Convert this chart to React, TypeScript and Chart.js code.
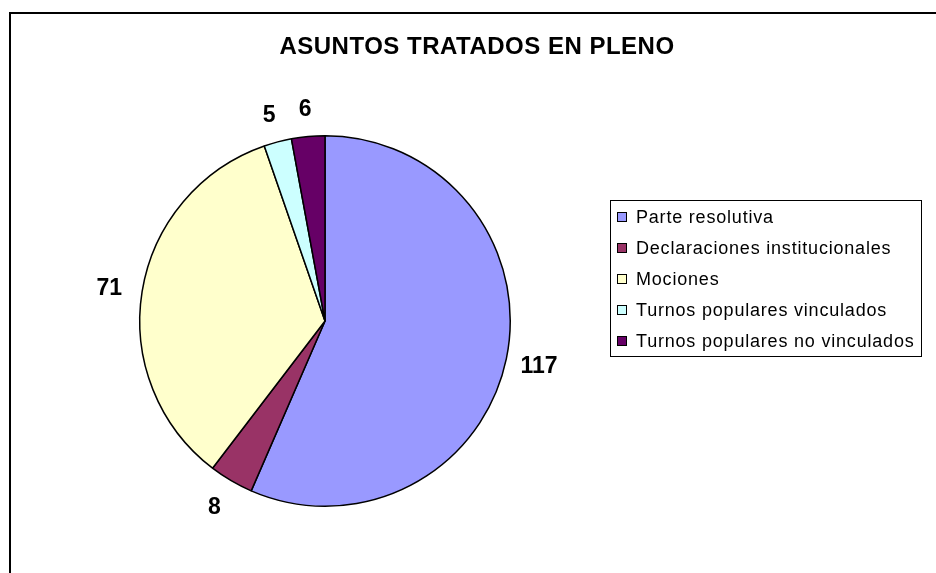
import React, { useEffect, useRef } from "react";
import { Chart, registerables } from "chart.js";

Chart.register(...registerables);

const title = "ASUNTOS TRATADOS EN PLENO";
const categories = [
  "Parte resolutiva",
  "Declaraciones institucionales",
  "Mociones",
  "Turnos populares vinculados",
  "Turnos populares no vinculados",
];
const values = [117, 8, 71, 5, 6];
const colors = ["#9999FF", "#993366", "#FFFFCC", "#CCFFFF", "#660066"];

const FONT = "'Liberation Sans', Arial, sans-serif";

const decorPlugin = {
  id: "decor",
  afterDraw(chart: any) {
    const ctx = chart.ctx;
    ctx.save();
    // outer frame
    ctx.strokeStyle = "#000";
    ctx.lineWidth = 2;
    ctx.strokeRect(10, 13, 1000, 700);

    // title
    ctx.fillStyle = "#000";
    ctx.font = `bold 24px ${FONT}`;
    (ctx as any).letterSpacing = "0.5px";
    ctx.textAlign = "center";
    ctx.textBaseline = "middle";
    ctx.fillText(title, 477, 47);
    (ctx as any).letterSpacing = "0px";

    // data labels
    const meta = chart.getDatasetMeta(0);
    ctx.font = `bold 23px ${FONT}`;
    meta.data.forEach((arc: any, i: number) => {
      const p = arc.getProps(["x", "y", "startAngle", "endAngle", "outerRadius"], true);
      const mid = (p.startAngle + p.endAngle) / 2;
      const r = p.outerRadius + 29;
      ctx.fillText(
        String(chart.data.datasets[0].data[i]),
        p.x + Math.cos(mid) * r * 1.02,
        p.y + Math.sin(mid) * r + 2
      );
    });

    // legend
    const lx = 610.5, ly = 200.5, lw = 311, lh = 156;
    ctx.lineWidth = 1;
    ctx.strokeStyle = "#000";
    ctx.strokeRect(lx, ly, lw, lh);
    ctx.font = `18px ${FONT}`;
    (ctx as any).letterSpacing = "0.8px";
    ctx.textAlign = "left";
    const labels: string[] = chart.data.labels;
    labels.forEach((lab, i) => {
      const cy = 217 + i * 31;
      ctx.fillStyle = chart.data.datasets[0].backgroundColor[i];
      ctx.fillRect(617, cy - 5, 10, 10);
      ctx.strokeRect(617.5, cy - 4.5, 9, 9);
      ctx.fillStyle = "#000";
      ctx.fillText(lab, 636, cy + 1);
    });
    ctx.restore();
  },
};

export default function App() {
  const ref = useRef<HTMLCanvasElement | null>(null);
  useEffect(() => {
    if (!ref.current) return;
    const chart = new Chart(ref.current, {
      type: "pie",
      data: {
        labels: categories,
        datasets: [
          {
            data: values,
            backgroundColor: colors,
            borderColor: "#000",
            borderWidth: 1.5,
          },
        ],
      },
      options: {
        responsive: false,
        animation: false,
        layout: { padding: { left: 139, right: 425, top: 135, bottom: 66 } },
        plugins: {
          legend: { display: false },
          tooltip: { enabled: false },
          title: { display: false },
        },
      },
      plugins: [decorPlugin],
    });
    return () => chart.destroy();
  }, []);
  return (
    <div style={{ position: "fixed", left: 0, top: 0, width: 936, height: 573, background: "#fff" }}>
      <canvas ref={ref} width={936} height={573} style={{ display: "block" }} />
    </div>
  );
}
